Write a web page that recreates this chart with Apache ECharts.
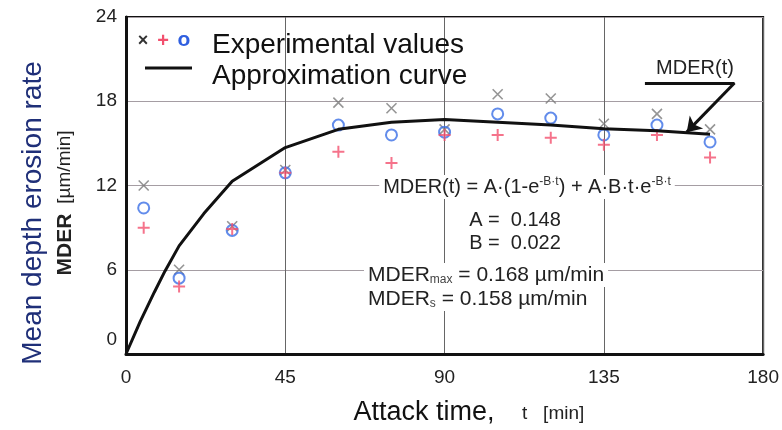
<!DOCTYPE html>
<html>
<head>
<meta charset="utf-8">
<script src="https://cdn.jsdelivr.net/npm/echarts@6/dist/echarts.min.js"></script>
<style>
  html, body { margin: 0; padding: 0; background: #fff; }
  #chart { width: 782px; height: 430px; }
</style>
</head>
<body>
<div id="chart"></div>
<script>
// measured points (t in min, MDER in 0.01 um/min)
var times = [5, 15, 30, 45, 60, 75, 90, 105, 120, 135, 150, 165];
var crossVals = [12.0, 6.0, 9.1, 13.1, 17.9, 17.5, 16.0, 18.5, 18.2, 16.4, 17.1, 16.0];
var plusVals = [9.0, 4.8, 8.9, 12.9, 14.4, 13.6, 15.6, 15.6, 15.4, 14.9, 15.6, 14.0];
var circleVals = [10.4, 5.4, 8.8, 12.9, 16.3, 15.6, 15.8, 17.1, 16.8, 15.6, 16.3, 15.1];

// approximation curve
var curveT = [0, 4, 8, 11, 15, 22, 30, 45, 60, 75, 90, 105, 120, 135, 150, 165];
var curveV = [0, 2.3, 4.4, 5.9, 7.7, 10.0, 12.3, 14.7, 16.0, 16.5, 16.7, 16.5, 16.3, 16.05, 15.9, 15.65];

// pointer from the "MDER(t)" label to the curve
var pointerPath = [[146.6, 19.3], [171.9, 19.3], [158.4, 15.8]];

var xTicks = [0, 45, 90, 135, 180];
var yTicks = [0, 6, 12, 18, 24];

var FONT = 'Liberation Sans, Arial, sans-serif';

function pairs(xs, ys) {
    return xs.map(function (x, i) { return [x, ys[i]]; });
}

var crossPath = 'path://M0,0L10,10M10,0L0,10';
var plusPath = 'path://M5,0L5,10M0,5L10,5';

var option = {
    animation: false,
    backgroundColor: '#fff',
    grid: {
        left: 126, right: 14, top: 17, bottom: 76,
        show: true, borderColor: '#111', borderWidth: 2
    },
    xAxis: {
        type: 'value',
        min: xTicks[0], max: xTicks[xTicks.length - 1], interval: 45,
        axisLine: { lineStyle: { color: '#111', width: 3 } },
        axisTick: { show: false },
        splitLine: { show: true, lineStyle: { color: '#666', width: 1 } },
        axisLabel: { fontSize: 19, color: '#222', margin: 14, fontFamily: FONT }
    },
    yAxis: {
        type: 'value',
        min: yTicks[0], max: yTicks[yTicks.length - 1], interval: 6,
        axisLine: { lineStyle: { color: '#111', width: 3 } },
        axisTick: { show: false },
        splitLine: { show: true, lineStyle: { color: '#a59da3', width: 1 } },
        axisLabel: {
            fontSize: 19, color: '#222', margin: 9, fontFamily: FONT,
            formatter: function (v) { return v === 0 ? '{z|0}' : String(v); },
            rich: { z: { fontSize: 19, fontFamily: FONT, color: '#222', padding: [0, 0, 28, 0] } }
        }
    },
    series: [
        {
            name: 'cross', type: 'scatter', symbol: crossPath, symbolSize: 10,
            itemStyle: { color: 'none', borderColor: '#7a7a7a', borderWidth: 1.6 },
            data: pairs(times, crossVals), z: 3
        },
        {
            name: 'circle', type: 'scatter', symbol: 'circle', symbolSize: 11,
            itemStyle: { color: 'rgba(255,255,255,0)', borderColor: '#3b6fe6', borderWidth: 2 },
            data: pairs(times, circleVals), z: 4
        },
        {
            name: 'plus', type: 'scatter', symbol: plusPath, symbolSize: 12,
            itemStyle: { color: 'none', borderColor: '#f2506e', borderWidth: 2 },
            data: pairs(times, plusVals), z: 5
        },
        {
            name: 'curve', type: 'line', symbol: 'none', smooth: false,
            lineStyle: { color: '#111', width: 3 },
            data: pairs(curveT, curveV), z: 6,
            markLine: {
                silent: true,
                symbol: ['none', 'arrow'],
                symbolSize: 14,
                label: { show: false },
                lineStyle: { color: '#111', width: 3, type: 'solid' },
                data: [
                    [{ coord: pointerPath[0], symbol: 'none' }, { coord: pointerPath[1], symbol: 'none' }],
                    [{ coord: pointerPath[1], symbol: 'none' }, { coord: pointerPath[2], symbol: 'arrow' }]
                ]
            }
        }
    ],
    graphic: [
        // legend
        {
            type: 'text', x: 143, y: 41, z: 100,
            style: { text: '×', fontSize: 18, fontFamily: FONT, fill: '#333', fontWeight: 'bold', align: 'center', verticalAlign: 'middle' }
        },
        {
            type: 'text', x: 163, y: 41, z: 100,
            style: { text: '+', fontSize: 20, fontFamily: FONT, fill: '#f2506e', fontWeight: 'bold', align: 'center', verticalAlign: 'middle' }
        },
        {
            type: 'text', x: 184, y: 40, z: 100,
            style: { text: 'o', fontSize: 21, fontFamily: FONT, fill: '#2f5fe0', fontWeight: 'bold', align: 'center', verticalAlign: 'middle' }
        },
        {
            type: 'line', z: 100,
            shape: { x1: 145, y1: 68, x2: 192, y2: 68 },
            style: { stroke: '#111', lineWidth: 3 }
        },
        {
            type: 'text', x: 212, y: 45, z: 100,
            style: { text: 'Experimental values', fontSize: 28, fontFamily: FONT, fill: '#111', verticalAlign: 'middle' }
        },
        {
            type: 'text', x: 212, y: 76, z: 100,
            style: { text: 'Approximation curve', fontSize: 28, fontFamily: FONT, fill: '#111', verticalAlign: 'middle' }
        },
        // curve label
        {
            type: 'text', x: 695, y: 68, z: 100,
            style: { text: 'MDER(t)', fontSize: 20, fontFamily: FONT, fill: '#222', align: 'center', verticalAlign: 'middle' }
        },
        // formula block
        {
            type: 'text', x: 527, y: 187, z: 100,
            style: {
                text: '{m|MDER(t) = A·(1-e}{s|-B·t}{m|) + A·B·t·e}{s|-B·t}',
                align: 'center', verticalAlign: 'middle',
                backgroundColor: '#fff', padding: [1, 4],
                rich: {
                    m: { fontSize: 20, fontFamily: FONT, fill: '#222', lineHeight: 22 },
                    s: { fontSize: 12, fontFamily: FONT, fill: '#333', lineHeight: 12, verticalAlign: 'top' }
                }
            }
        },
        {
            type: 'text', x: 515, y: 220, z: 100,
            style: { text: 'A =  0.148', fontSize: 20, fontFamily: FONT, fill: '#222', align: 'center', verticalAlign: 'middle', backgroundColor: '#fff', padding: [1, 4] }
        },
        {
            type: 'text', x: 515, y: 243, z: 100,
            style: { text: 'B =  0.022', fontSize: 20, fontFamily: FONT, fill: '#222', align: 'center', verticalAlign: 'middle', backgroundColor: '#fff', padding: [1, 4] }
        },
        {
            type: 'text', x: 364, y: 275, z: 100,
            style: {
                text: '{m|MDER}{s|max}{m| = 0.168 µm/min}',
                verticalAlign: 'middle', backgroundColor: '#fff', padding: [1, 4],
                rich: {
                    m: { fontSize: 21, fontFamily: FONT, fill: '#222', lineHeight: 22 },
                    s: { fontSize: 12, fontFamily: FONT, fill: '#444', lineHeight: 12, verticalAlign: 'bottom' }
                }
            }
        },
        {
            type: 'text', x: 364, y: 299, z: 100,
            style: {
                text: '{m|MDER}{s|s}{m| = 0.158 µm/min}',
                verticalAlign: 'middle', backgroundColor: '#fff', padding: [1, 4],
                rich: {
                    m: { fontSize: 21, fontFamily: FONT, fill: '#222', lineHeight: 22 },
                    s: { fontSize: 12, fontFamily: FONT, fill: '#444', lineHeight: 12, verticalAlign: 'bottom' }
                }
            }
        },
        // axis titles
        {
            type: 'text', x: 33, y: 213, rotation: Math.PI / 2, z: 100,
            style: { text: 'Mean depth erosion rate', fontSize: 28, fontFamily: FONT, fill: '#1f2f78', align: 'center', verticalAlign: 'middle' }
        },
        {
            type: 'text', x: 65, y: 203, rotation: Math.PI / 2, z: 100,
            style: {
                text: '{b|MDER}   {n|[µm/min]}',
                align: 'center', verticalAlign: 'middle',
                rich: {
                    b: { fontSize: 21, fontFamily: FONT, fill: '#222', fontWeight: 'bold' },
                    n: { fontSize: 19, fontFamily: FONT, fill: '#222' }
                }
            }
        },
        {
            type: 'text', x: 424, y: 413, z: 100,
            style: { text: 'Attack time,', fontSize: 27, fontFamily: FONT, fill: '#111', align: 'center', verticalAlign: 'middle' }
        },
        {
            type: 'text', x: 522, y: 414, z: 100,
            style: { text: 't   [min]', fontSize: 19, fontFamily: FONT, fill: '#222', verticalAlign: 'middle' }
        }
    ]
};

var chart = echarts.init(document.getElementById('chart'), null, { renderer: 'canvas' });
chart.setOption(option);
</script>
</body>
</html>
